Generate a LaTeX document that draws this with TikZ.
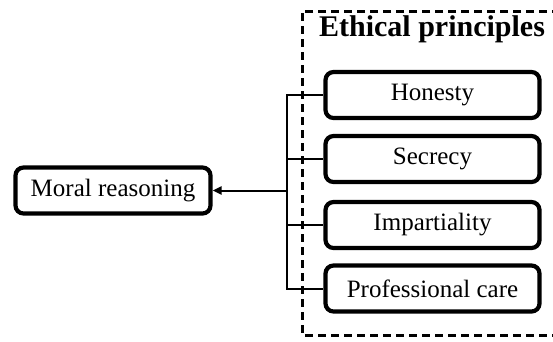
\documentclass[tikz,border=0pt]{standalone}
\usepackage{fontspec}
\setmainfont{Liberation Serif}
\usetikzlibrary{arrows.meta}
\begin{document}
\begin{tikzpicture}[x=1pt,y=-1pt,
  box/.style={draw,line width=4.2pt,rounded corners=8pt,minimum width=214pt,minimum height=46pt,inner sep=0pt,font=\fontsize{25}{30}\selectfont},
  link/.style={line width=2pt},
  frame/.style={line width=3pt,dash pattern=on 8pt off 5pt}]
\useasboundingbox (0,0) rectangle (553,341);
\draw[frame] (560,11) -- (302,11) -- (302,335) -- (560,335);
\node[font=\bfseries\fontsize{30}{34}\selectfont,inner sep=0pt] (title) at (432,29) {Ethical principles};
\node[box] (h) at (432.5,95) {Honesty};
\node[box] (s) at (432.5,159) {Secrecy};
\node[box] (i) at (432.5,225) {Impartiality};
\node[box] (p) at (432.5,288.5) {Professional care};
\node[box,minimum width=195pt] (m) at (113,190.5) {Moral reasoning};
\coordinate (bt) at (287,95);
\coordinate (bb) at (287,288.5);
\draw[link] (h.west) -- (bt) -- (bb) -- (p.west);
\draw[link] (bt|-s.west) -- (s.west);
\draw[link] (bt|-i.west) -- (i.west);
\draw[link,-{Triangle[length=9pt,width=8pt]}] (bt|-m.east) -- (m.east);
\end{tikzpicture}
\end{document}
